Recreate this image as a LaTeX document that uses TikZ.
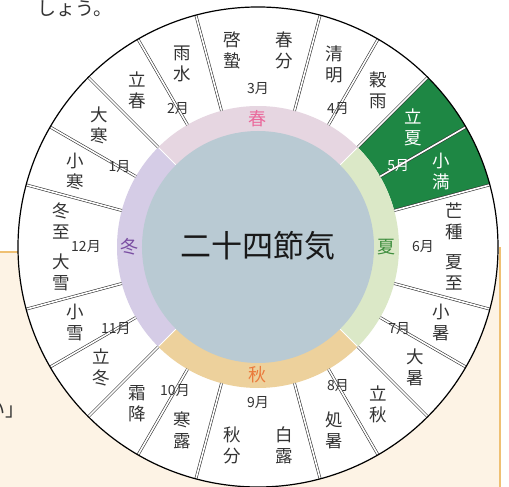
\documentclass[tikz,border=0pt]{standalone}
\usepackage{fontspec}
\setmainfont{Noto Sans CJK JP}
\definecolor{termgray}{HTML}{333333}
\definecolor{ringpink}{HTML}{E6D6E1}
\definecolor{ringgreen}{HTML}{DBE8C7}
\definecolor{ringorange}{HTML}{EDD19C}
\definecolor{ringpurple}{HTML}{D5CCE6}
\definecolor{coreblue}{HTML}{B9CAD3}
\definecolor{sectgreen}{HTML}{1E8744}
\definecolor{panelcream}{HTML}{FDF3E5}
\definecolor{panelorange}{HTML}{EFC073}
\definecolor{springpink}{HTML}{EA6A9C}
\definecolor{summergreen}{HTML}{3E8E3E}
\definecolor{autumnorange}{HTML}{EA7A3C}
\definecolor{winterpurple}{HTML}{7A4EA2}
\tikzset{
  term/.style={font=\fontsize{17.5}{21}\selectfont, text=termgray, align=center, inner sep=0pt},
  termw/.style={term, text=white},
  mon/.style={font=\fontsize{14}{14}\selectfont, text=termgray, inner sep=0pt},
  season/.style={font=\fontsize{18}{18}\selectfont, inner sep=0pt},
  sepline/.style={draw=black!80, double=white, double distance=1.6pt, line width=0.6pt},
}
\begin{document}
\begin{tikzpicture}[x=1pt,y=1pt]
\useasboundingbox (-258,247) rectangle (251,-240);
% cream panel
\fill[panelcream] (-262,-5) rectangle (242,-245);
\draw[panelorange, line width=2pt] (-262,-5) -- (-200,-5);
\draw[panelorange, line width=2.5pt] (242,0) -- (242,-245);
% page text fragments
\node[anchor=west, font=\fontsize{19}{19}\selectfont, text=termgray, inner sep=0pt] (yo) at (-221,238) {しょう。};
\node[anchor=base west, font=\fontsize{19}{19}\selectfont, text=termgray, inner sep=0pt] (ii) at (-272,-170) {い」};
% dial
\fill[white] (0,0) circle[radius=240];
\fill[sectgreen] (15:141) -- (15:240) arc[start angle=15, end angle=45, radius=240] -- (45:141) arc[start angle=45, end angle=15, radius=141] -- cycle;
\fill[ringpink] (0,0) -- (45:141) arc[start angle=45, end angle=135, radius=141] -- cycle;
\fill[ringpurple] (0,0) -- (135:141) arc[start angle=135, end angle=225, radius=141] -- cycle;
\fill[ringorange] (0,0) -- (225:141) arc[start angle=225, end angle=315, radius=141] -- cycle;
\fill[ringgreen] (0,0) -- (-45:141) arc[start angle=-45, end angle=45, radius=141] -- cycle;
\foreach \a in {45,135,225,315} \draw[white, line width=1pt] (\a:115) -- (\a:141.5);
\fill[coreblue] (0,0) circle[radius=116];
\foreach \a in {0,15,...,345} \draw[sepline] (\a:141) -- (\a:240);
\draw[black, line width=1.2pt] (0,0) circle[radius=240];
% center
\node[font=\fontsize{31}{31}\selectfont, text=black!90, inner sep=0pt] (title) at (0,1) {二十四節気};
% seasons
\node[season, text=springpink] (spring) at (90:128) {春};
\node[season, text=summergreen] (summer) at (0:128) {夏};
\node[season, text=autumnorange] (autumn) at (-90:128) {秋};
\node[season, text=winterpurple] (winter) at (180:128) {冬};
% terms
\node[term] (t1) at (82.5:198) {春\\分};
\node[term] (t2) at (67.5:198) {清\\明};
\node[term] (t3) at (52.5:198) {穀\\雨};
\node[termw] (t4) at (37.5:196) {立\\夏};
\node[termw] (t5) at (22.5:198) {小\\満};
\node[term] (t6) at (7.5:198) {芒\\種};
\node[term] (t7) at (-7.5:198) {夏\\至};
\node[term] (t8) at (-22.5:198) {小\\暑};
\node[term] (t9) at (-37.5:198) {大\\暑};
\node[term] (t10) at (-52.5:198) {立\\秋};
\node[term] (t11) at (-67.5:198) {処\\暑};
\node[term] (t12) at (-82.5:200) {白\\露};
\node[term] (t13) at (-97.5:200) {秋\\分};
\node[term] (t14) at (-112.5:198) {寒\\露};
\node[term] (t15) at (-127.5:198) {霜\\降};
\node[term] (t16) at (-142.5:198) {立\\冬};
\node[term] (t17) at (-157.5:198) {小\\雪};
\node[term] (t18) at (-172.5:198) {大\\雪};
\node[term] (t19) at (172.5:198) {冬\\至};
\node[term] (t20) at (157.5:198) {小\\寒};
\node[term] (t21) at (142.5:200) {大\\寒};
\node[term] (t22) at (127.5:198) {立\\春};
\node[term] (t23) at (112.5:198) {雨\\水};
\node[term] (t24) at (97.5:198) {啓\\蟄};
% months
\node[mon] (m3) at (90:158) {3月};
\node[mon] (m4) at (60:160) {4月};
\node[mon, text=white] (m5) at (30:162) {5月};
\node[mon] (m6) at (0:165) {6月};
\node[mon] (m7) at (-30:163) {7月};
\node[mon] (m8) at (-60:160) {8月};
\node[mon] (m9) at (-90:156) {9月};
\node[mon] (m10) at (-120:166) {10月};
\node[mon] (m11) at (-150:164) {11月};
\node[mon] (m12) at (180:172) {12月};
\node[mon] (m1) at (150:160) {1月};
\node[mon] (m2) at (120:160) {2月};
\end{tikzpicture}
\end{document}
